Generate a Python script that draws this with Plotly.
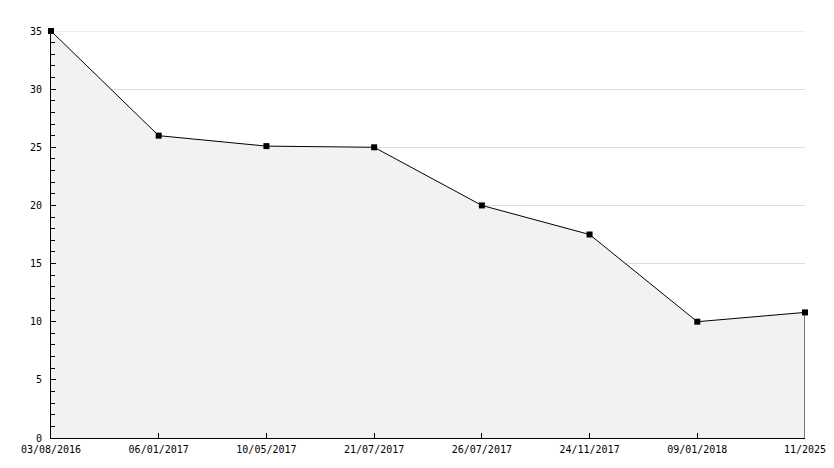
import plotly.graph_objects as go

dates = ["03/08/2016", "06/01/2017", "10/05/2017", "21/07/2017",
         "26/07/2017", "24/11/2017", "09/01/2018", "11/2025"]
values = [35, 26, 25.1, 25, 20, 17.5, 10, 10.8]
y_ticks = [0, 5, 10, 15, 20, 25, 30, 35]

fig = go.Figure()
fig.add_trace(go.Scatter(
    x=dates, y=values, mode="lines+markers",
    fill="tozeroy", fillcolor="#f2f2f2",
    line=dict(color="black", width=1),
    marker=dict(symbol="square", size=6, color="black"),
    hoverinfo="skip", showlegend=False, cliponaxis=False,
))
fig.add_shape(type="line", xref="x", yref="y",
              x0=dates[-1], x1=dates[-1], y0=0, y1=values[-1],
              line=dict(color="black", width=1))
fig.add_shape(type="line", xref="paper", yref="y", layer="below",
              x0=0, x1=1, y0=y_ticks[-1], y1=y_ticks[-1],
              line=dict(color="#dddddd", width=1))

font = dict(family="DejaVu Sans Mono", size=10, color="black")
fig.update_layout(
    width=834, height=468,
    margin=dict(l=43, r=37, t=23, b=38),
    plot_bgcolor="white", paper_bgcolor="white",
    font=font,
    xaxis=dict(type="category", range=[0, len(dates) - 1],
               showgrid=False, showline=True, linecolor="black", linewidth=1,
               ticks="inside", ticklen=5, tickcolor="black",
               ticklabelstandoff=2,
               tickfont=font, zeroline=False),
    yaxis=dict(range=[0, 35], tickvals=y_ticks,
               showgrid=True, gridcolor="#dddddd", gridwidth=1,
               showline=True, linecolor="black", linewidth=1,
               ticks="inside", ticklen=5, tickcolor="black",
               ticklabelstandoff=6,
               minor=dict(ticks="inside", ticklen=4, dtick=1,
                          tickcolor="black", showgrid=False),
               tickfont=font, zeroline=False),
)
fig.write_html("out.html")
